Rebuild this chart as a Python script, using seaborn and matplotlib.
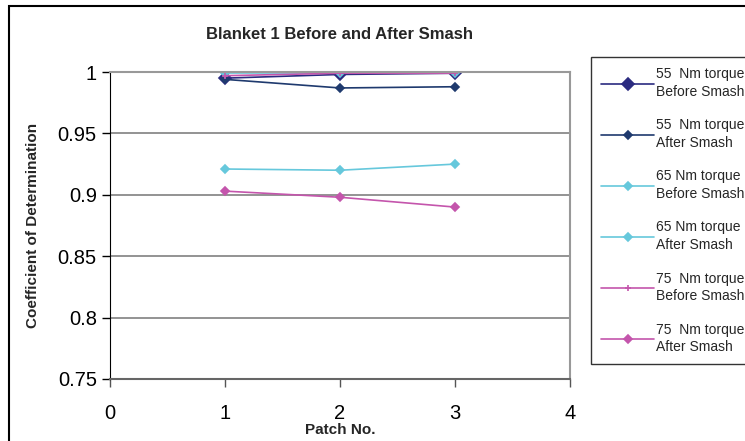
import pandas as pd
import matplotlib.pyplot as plt
import matplotlib.patches as mpatches
import seaborn as sns

# data
patches = [1, 2, 3]
labels = [
    "55  Nm torque\nBefore Smash",
    "55  Nm torque\nAfter Smash",
    "65 Nm torque\nBefore Smash",
    "65 Nm torque\nAfter Smash",
    "75  Nm torque\nBefore Smash",
    "75  Nm torque\nAfter Smash",
]
r2_55_before = [0.995, 0.998, 0.999]
r2_55_after = [0.994, 0.987, 0.988]
r2_65_before = [0.921, 0.920, 0.925]
r2_65_after = [0.999, 0.999, 0.999]
r2_75_before = [0.997, 0.999, 0.999]
r2_75_after = [0.903, 0.898, 0.890]

series = [r2_55_before, r2_55_after, r2_65_before, r2_65_after, r2_75_before, r2_75_after]
colors = ["#2B2B80", "#1F3A6E", "#66C8DC", "#66C8DC", "#C455AC", "#C455AC"]
markers = ["D", "D", "D", "D", "+", "D"]
msizes = [6, 4.5, 4.5, 4.5, 4, 4.5]

sns.set_style("white")
plt.rcParams['font.family'] = ['Liberation Sans', 'DejaVu Sans']

fig = plt.figure(figsize=(7.45, 4.41), dpi=100)
ax = fig.add_axes([110 / 745, 1 - 379 / 441, 460 / 745, 307 / 441])

# outer chart border (Excel-style chart area)
fig.patches.append(mpatches.Rectangle((9 / 745, -0.1), 1.2, 1 - 6 / 441 + 0.1,
                                      transform=fig.transFigure, fill=False,
                                      edgecolor="black", linewidth=1.5))

for vals, lab, col, mk, ms in zip(series, labels, colors, markers, msizes):
    df = pd.DataFrame({"Patch": patches, "R2": vals})
    sns.lineplot(data=df, x="Patch", y="R2", ax=ax, color=col, marker=mk,
                 markersize=ms, markeredgecolor=col, markeredgewidth=1.2,
                 linewidth=1.2, label=lab, legend=False)

ax.set_xlim(0, 4)
ax.set_ylim(0.75, 1.0)
ax.set_xticks([0, 1, 2, 3, 4])
ax.set_yticks([0.75, 0.8, 0.85, 0.9, 0.95, 1.0])
ax.set_yticklabels(["0.75", "0.8", "0.85", "0.9", "0.95", "1"])
ax.yaxis.grid(True, color="#808080", linewidth=1.2)
ax.set_axisbelow(True)
ax.tick_params(axis="both", direction="out", length=6, width=1,
               labelsize=14.5, colors="black", left=True, bottom=True)
ax.tick_params(axis="x", pad=12, color="#555555")
for side in ["top", "right"]:
    ax.spines[side].set_color("#999999")
    ax.spines[side].set_linewidth(1.5)
ax.spines["left"].set_color("black")
ax.spines["bottom"].set_color("#666666")
ax.spines["bottom"].set_linewidth(1.5)

ax.set_title("Blanket 1 Before and After Smash", fontsize=12, fontweight="bold", pad=24)
ax.set_xlabel("Patch No.", fontsize=11, fontweight="bold", labelpad=0)
ax.set_ylabel("Coefficient of Determination", fontsize=11, fontweight="bold", labelpad=13)

handles, labs = ax.get_legend_handles_labels()
leg = fig.legend(handles, labs, loc="upper left",
                 bbox_to_anchor=(591 / 745, 1 - 57 / 441),
                 fontsize=10, frameon=True, fancybox=False, handlelength=3.8,
                 labelspacing=1.42, borderpad=0.75, handletextpad=0.15,
                 borderaxespad=0)
for t in leg.get_texts():
    t.set_linespacing(1.3)
leg.get_frame().set_edgecolor("black")
leg.get_frame().set_linewidth(1)

fig.savefig("out.png", dpi=100)
